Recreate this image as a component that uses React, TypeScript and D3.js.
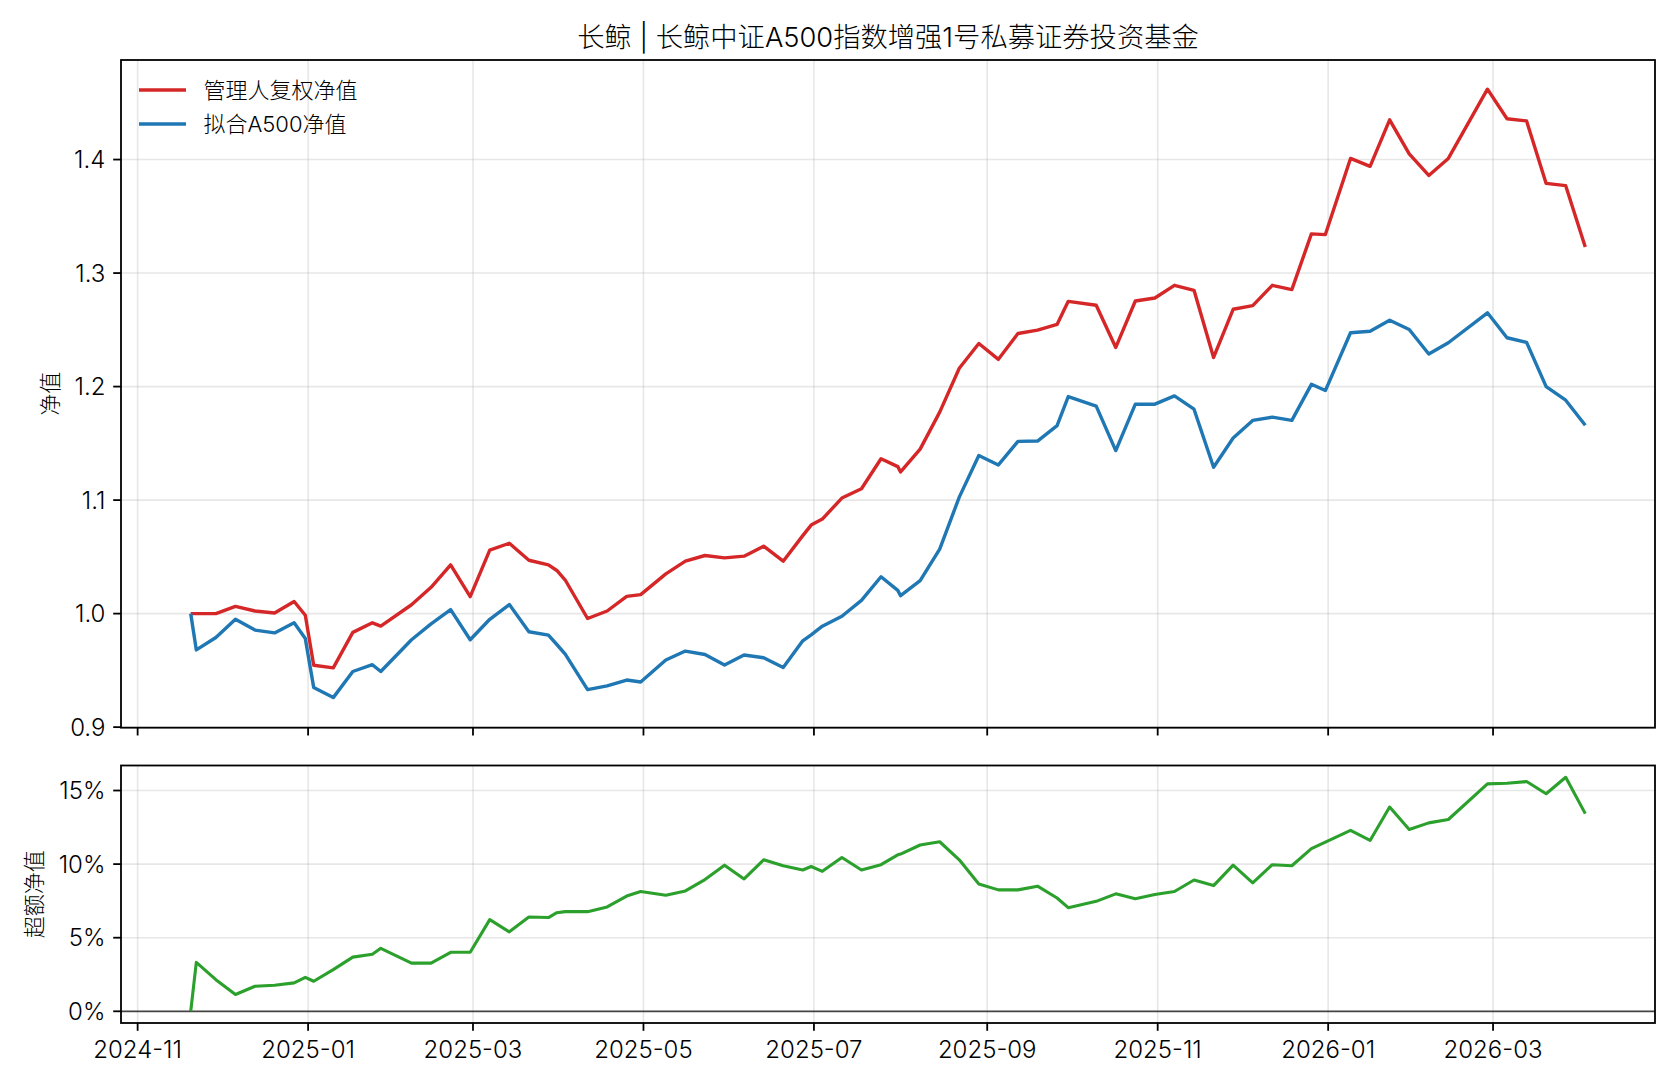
import React from "react";
import * as d3 from "d3";

const TITLE = "长鲸 | 长鲸中证A500指数增强1号私募证券投资基金";
const SERIES_NAMES = ["管理人复权净值", "拟合A500净值"];
const Y_LABEL_TOP = "净值";
const Y_LABEL_BOTTOM = "超额净值";

const DATES = [
  "2024-11-20", "2024-11-22", "2024-11-29", "2024-12-06", "2024-12-13", "2024-12-20", "2024-12-27", "2024-12-31",
  "2025-01-03", "2025-01-10", "2025-01-17", "2025-01-24", "2025-01-27", "2025-02-07", "2025-02-14", "2025-02-21",
  "2025-02-28", "2025-03-07", "2025-03-14", "2025-03-21", "2025-03-28", "2025-03-31", "2025-04-03", "2025-04-11",
  "2025-04-18", "2025-04-25", "2025-04-30", "2025-05-09", "2025-05-16", "2025-05-23", "2025-05-30", "2025-06-06",
  "2025-06-13", "2025-06-20", "2025-06-27", "2025-06-30", "2025-07-04", "2025-07-11", "2025-07-18", "2025-07-25",
  "2025-07-31", "2025-08-01", "2025-08-08", "2025-08-15", "2025-08-22", "2025-08-29", "2025-09-05", "2025-09-12",
  "2025-09-19", "2025-09-26", "2025-09-30", "2025-10-10", "2025-10-17", "2025-10-24", "2025-10-31", "2025-11-07",
  "2025-11-14", "2025-11-21", "2025-11-28", "2025-12-05", "2025-12-12", "2025-12-19", "2025-12-26", "2025-12-31",
  "2026-01-09", "2026-01-16", "2026-01-23", "2026-01-30", "2026-02-06", "2026-02-13", "2026-02-27", "2026-03-06",
  "2026-03-13", "2026-03-20", "2026-03-27", "2026-04-03",
];

const MANAGER_NAV = [
  1.0, 1.0, 1.0, 1.0064, 1.0023, 1.0006, 1.0107, 0.9986,
  0.9545, 0.9522, 0.9835, 0.9919, 0.989, 1.0078, 1.0232, 1.0429,
  1.015, 1.056, 1.062, 1.047, 1.043, 1.038, 1.0296, 0.9957,
  1.0023, 1.0152, 1.0167, 1.035, 1.0462, 1.0512, 1.0491, 1.0506,
  1.0594, 1.0462, 1.0687, 1.078, 1.0833, 1.1018, 1.11, 1.1364,
  1.1295, 1.1248, 1.1449, 1.1775, 1.2161, 1.238, 1.224, 1.2468,
  1.2497, 1.2547, 1.2751, 1.2716, 1.2345, 1.2754, 1.278, 1.2892,
  1.2848, 1.2257, 1.2681, 1.2713, 1.2892, 1.2854, 1.3345, 1.3339,
  1.401, 1.394, 1.435, 1.405, 1.386, 1.401, 1.462, 1.436,
  1.434, 1.379, 1.377, 1.323,
];

const FIT_A500_NAV = [
  1.0, 0.968, 0.979, 0.995, 0.9855, 0.983, 0.992, 0.978,
  0.935, 0.926, 0.949, 0.955, 0.949, 0.977, 0.991, 1.0035,
  0.977, 0.995, 1.008, 0.984, 0.981, 0.9728, 0.9643, 0.933,
  0.9363, 0.9415, 0.9398, 0.9591, 0.967, 0.964, 0.9547, 0.9635,
  0.9611, 0.9526, 0.976, 0.9813, 0.9889, 0.9977, 1.0117, 1.0325,
  1.0205, 1.0158, 1.029, 1.0569, 1.1026, 1.1393, 1.131, 1.1517,
  1.152, 1.1656, 1.1912, 1.1828, 1.1436, 1.1845, 1.1845, 1.1918,
  1.1801, 1.129, 1.1547, 1.1702, 1.1731, 1.1702, 1.202, 1.1965,
  1.2474, 1.2488, 1.2585, 1.2503, 1.2287, 1.2386, 1.265, 1.243,
  1.239, 1.2, 1.188, 1.166,
];

const EXCESS_PCT = [
  0, 3.32, 2.15, 1.14, 1.7, 1.77, 1.93, 2.31,
  2.04, 2.83, 3.68, 3.88, 4.28, 3.27, 3.27, 4.01,
  4.01, 6.23, 5.4, 6.41, 6.37, 6.7, 6.77, 6.77,
  7.09, 7.83, 8.14, 7.89, 8.18, 8.95, 9.93, 8.99,
  10.29, 9.89, 9.6, 9.84, 9.51, 10.45, 9.6, 9.96,
  10.63, 10.68, 11.3, 11.52, 10.29, 8.65, 8.25, 8.25,
  8.5, 7.7, 7.04, 7.47, 7.98, 7.65, 7.94, 8.14,
  8.92, 8.54, 9.93, 8.72, 9.96, 9.89, 11.05, 11.49,
  12.29, 11.61, 13.88, 12.35, 12.8, 13.03, 15.45, 15.49,
  15.61, 14.78, 15.9, 13.43,
];

const X_TICKS = ["2024-11", "2025-01", "2025-03", "2025-05", "2025-07", "2025-09", "2025-11", "2026-01", "2026-03"];
const NAV_TICKS = [0.9, 1.0, 1.1, 1.2, 1.3, 1.4];
const EXCESS_TICKS = [0, 5, 10, 15];

const COLORS = { manager: "#d62728", fit: "#1f77b4", excess: "#2ca02c" };
const LATIN_FONT = "Inter, 'Noto Sans CJK SC', sans-serif";
const CJK_FONT = "'Noto Sans CJK SC', sans-serif";

export default function App() {
  const W = 1680, H = 1088;
  const L = 121, R = 1655;
  const T1 = 60, B1 = 727.7;
  const T2 = 765.5, B2 = 1023;
  const tickLen = 7.8, tickPad = 7.8;

  const parse = d3.utcParse("%Y-%m-%d");
  const parseMonth = d3.utcParse("%Y-%m");
  const dates = DATES.map((d) => parse(d) as Date);
  const [d0, d1] = d3.extent(dates) as [Date, Date];
  const pad = (+d1 - +d0) * 0.05;
  const x = d3.scaleUtc().domain([new Date(+d0 - pad), new Date(+d1 + pad)]).range([L, R]);
  const y1 = d3.scaleLinear().domain([0.8995, 1.4877]).range([B1, T1]);
  const y2 = d3.scaleLinear().domain([-0.795, 16.7]).range([B2, T2]);

  const idx = d3.range(dates.length);
  const lineTop = (vals: number[]) =>
    d3.line<number>().x((i) => x(dates[i])).y((i) => y1(vals[i]))(idx) || "";
  const lineBot = d3.line<number>().x((i) => x(dates[i])).y((i) => y2(EXCESS_PCT[i]))(idx) || "";

  const xt = X_TICKS.map((s) => ({ label: s, pos: x(parseMonth(s) as Date) }));
  const gridStyle = { stroke: "#b0b0b0", strokeOpacity: 0.3, strokeWidth: 1.6 };
  const fmtNav = d3.format(".1f");

  return (
    <div style={{ position: "fixed", left: 0, top: 0, width: W, height: H, background: "#fff" }}>
      <svg width={W} height={H} viewBox={`0 0 ${W} ${H}`} style={{ display: "block" }}>
        <rect x={0} y={0} width={W} height={H} fill="#fff" />
        {/* Title */}
        <text x={(L + R) / 2} y={46.5} textAnchor="middle" fontFamily={LATIN_FONT} fontSize={27.3} fontWeight={300} fill="#000">
          {TITLE}
        </text>

        {/* ===== Top panel ===== */}
        <g>
          {xt.map((t) => (
            <line key={"gx1" + t.label} x1={t.pos} x2={t.pos} y1={T1} y2={B1} {...gridStyle} />
          ))}
          {NAV_TICKS.map((v) => (
            <line key={"gy1" + v} x1={L} x2={R} y1={y1(v)} y2={y1(v)} {...gridStyle} />
          ))}
          <path d={lineTop(MANAGER_NAV)} fill="none" stroke={COLORS.manager} strokeWidth={3.4} strokeLinejoin="round" />
          <path d={lineTop(FIT_A500_NAV)} fill="none" stroke={COLORS.fit} strokeWidth={3.4} strokeLinejoin="round" />
          <rect x={L} y={T1} width={R - L} height={B1 - T1} fill="none" stroke="#000" strokeWidth={1.8} />
          {NAV_TICKS.map((v) => (
            <g key={"ty1" + v}>
              <line x1={L - tickLen} x2={L} y1={y1(v)} y2={y1(v)} stroke="#000" strokeWidth={1.8} />
              <text x={L - tickLen - tickPad} y={y1(v) + 8.7} textAnchor="end" fontFamily={LATIN_FONT} fontSize={24} fontWeight={300} fill="#000">
                {fmtNav(v)}
              </text>
            </g>
          ))}
          {xt.map((t) => (
            <line key={"tx1" + t.label} x1={t.pos} x2={t.pos} y1={B1} y2={B1 + tickLen} stroke="#000" strokeWidth={1.8} />
          ))}
          <text
            transform={`translate(47.5, ${(T1 + B1) / 2}) rotate(-90)`}
            textAnchor="middle"
            dominantBaseline="central"
            fontFamily={CJK_FONT}
            fontSize={22}
            fontWeight={300}
            fill="#000"
          >
            {Y_LABEL_TOP}
          </text>
          {/* Legend */}
          {SERIES_NAMES.map((name, i) => {
            const yy = 90 + i * 34;
            const c = i === 0 ? COLORS.manager : COLORS.fit;
            return (
              <g key={name}>
                <line x1={139} x2={186} y1={yy} y2={yy} stroke={c} strokeWidth={3.4} />
                <text x={203.5} y={yy} dominantBaseline="central" fontFamily={LATIN_FONT} fontSize={22} fontWeight={300} fill="#000">
                  {name}
                </text>
              </g>
            );
          })}
        </g>

        {/* ===== Bottom panel ===== */}
        <g>
          {xt.map((t) => (
            <line key={"gx2" + t.label} x1={t.pos} x2={t.pos} y1={T2} y2={B2} {...gridStyle} />
          ))}
          {EXCESS_TICKS.map((v) => (
            <line key={"gy2" + v} x1={L} x2={R} y1={y2(v)} y2={y2(v)} {...gridStyle} />
          ))}
          <line x1={L} x2={R} y1={y2(0)} y2={y2(0)} stroke="#000" strokeOpacity={0.7} strokeWidth={1.8} />
          <path d={lineBot} fill="none" stroke={COLORS.excess} strokeWidth={3.1} strokeLinejoin="round" />
          <rect x={L} y={T2} width={R - L} height={B2 - T2} fill="none" stroke="#000" strokeWidth={1.8} />
          {EXCESS_TICKS.map((v) => (
            <g key={"ty2" + v}>
              <line x1={L - tickLen} x2={L} y1={y2(v)} y2={y2(v)} stroke="#000" strokeWidth={1.8} />
              <text x={L - tickLen - tickPad} y={y2(v) + 8.7} textAnchor="end" fontFamily={LATIN_FONT} fontSize={24} fontWeight={300} fill="#000">
                {`${v}%`}
              </text>
            </g>
          ))}
          {xt.map((t) => (
            <g key={"tx2" + t.label}>
              <line x1={t.pos} x2={t.pos} y1={B2} y2={B2 + tickLen} stroke="#000" strokeWidth={1.8} />
              <text x={t.pos} y={1057.6} textAnchor="middle" fontFamily={LATIN_FONT} fontSize={24} fontWeight={300} fill="#000">
                {t.label}
              </text>
            </g>
          ))}
          <text
            transform={`translate(32, ${(T2 + B2) / 2}) rotate(-90)`}
            textAnchor="middle"
            dominantBaseline="central"
            fontFamily={CJK_FONT}
            fontSize={22}
            fontWeight={300}
            fill="#000"
          >
            {Y_LABEL_BOTTOM}
          </text>
        </g>
      </svg>
    </div>
  );
}
